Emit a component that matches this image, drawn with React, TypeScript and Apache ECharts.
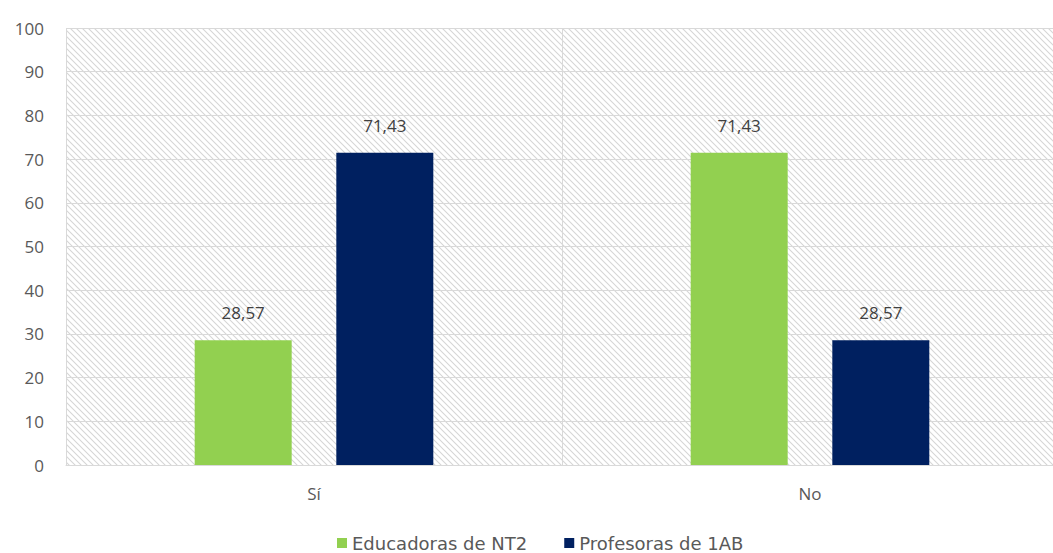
import React, { useEffect, useRef } from "react";
import * as echarts from "echarts";

const categories = ["Sí", "No"];
const seriesNames = ["Educadoras de NT2", "Profesoras de 1AB"];
const educadoras = [28.57, 71.43];
const profesoras = [71.43, 28.57];
const colors = ["#92d050", "#002060"];

function makeHatch(): HTMLCanvasElement {
  const c = document.createElement("canvas");
  c.width = 6;
  c.height = 6;
  const ctx = c.getContext("2d")!;
  ctx.fillStyle = "#ffffff";
  ctx.fillRect(0, 0, 6, 6);
  ctx.strokeStyle = "#d6d6d6";
  ctx.lineWidth = 1.1;
  ctx.beginPath();
  ctx.moveTo(-1, -1);
  ctx.lineTo(7, 7);
  ctx.moveTo(-1, 5);
  ctx.lineTo(1, 7);
  ctx.moveTo(5, -1);
  ctx.lineTo(7, 1);
  ctx.stroke();
  return c;
}

export default function App() {
  const ref = useRef<HTMLDivElement>(null);
  useEffect(() => {
    if (!ref.current) return;
    const chart = echarts.init(ref.current, undefined, { renderer: "svg" });
    const font = "'Open Sans', 'Noto Sans', sans-serif";
    const fmt = (p: any) => Number(p.value).toFixed(2).replace(".", ",");
    const labelStyle = {
      show: true,
      position: "top",
      distance: 19,
      formatter: fmt,
      fontSize: 17,
      color: "#404040",
      fontFamily: font,
    };
    chart.setOption({
      animation: false,
      backgroundColor: "#ffffff",
      textStyle: { fontFamily: font },
      grid: {
        left: 66,
        right: 0,
        top: 28,
        bottom: 88,
        show: true,
        borderWidth: 0,
        backgroundColor: { image: makeHatch(), repeat: "repeat" },
      },
      legend: {
        data: seriesNames,
        left: 332,
        top: 529,
        icon: "rect",
        itemWidth: 10,
        itemHeight: 10,
        itemGap: 37,
        textStyle: {
          fontSize: 18,
          color: "#595959",
          fontFamily: "'DejaVu Sans', sans-serif",
        },
      },
      xAxis: {
        type: "category",
        data: categories,
        axisLine: { show: true, lineStyle: { color: "#d9d9d9", width: 1 } },
        axisTick: { show: false },
        axisLabel: { fontSize: 17, color: "#595959", margin: 20, fontFamily: font },
        splitLine: { show: true, lineStyle: { color: "#d9d9d9", width: 1 } },
      },
      yAxis: {
        type: "value",
        min: 0,
        max: 100,
        interval: 10,
        axisLine: { show: false },
        axisTick: { show: false },
        axisLabel: { fontSize: 17, color: "#595959", margin: 22, fontFamily: font },
        splitLine: { show: true, lineStyle: { color: "#d9d9d9", width: 1 } },
      },
      series: [
        {
          name: seriesNames[0],
          type: "bar",
          data: educadoras,
          barWidth: 97,
          barGap: "46%",
          itemStyle: { color: colors[0] },
          label: labelStyle,
        },
        {
          name: seriesNames[1],
          type: "bar",
          data: profesoras,
          barWidth: 97,
          barGap: "46%",
          itemStyle: { color: colors[1] },
          label: labelStyle,
        },
      ],
    });
    return () => chart.dispose();
  }, []);
  return (
    <div
      style={{
        position: "fixed",
        left: 0,
        top: 0,
        width: 1053,
        height: 553,
        overflow: "hidden",
      }}
    >
      <div ref={ref} style={{ width: 1058, height: 553 }} />
    </div>
  );
}
